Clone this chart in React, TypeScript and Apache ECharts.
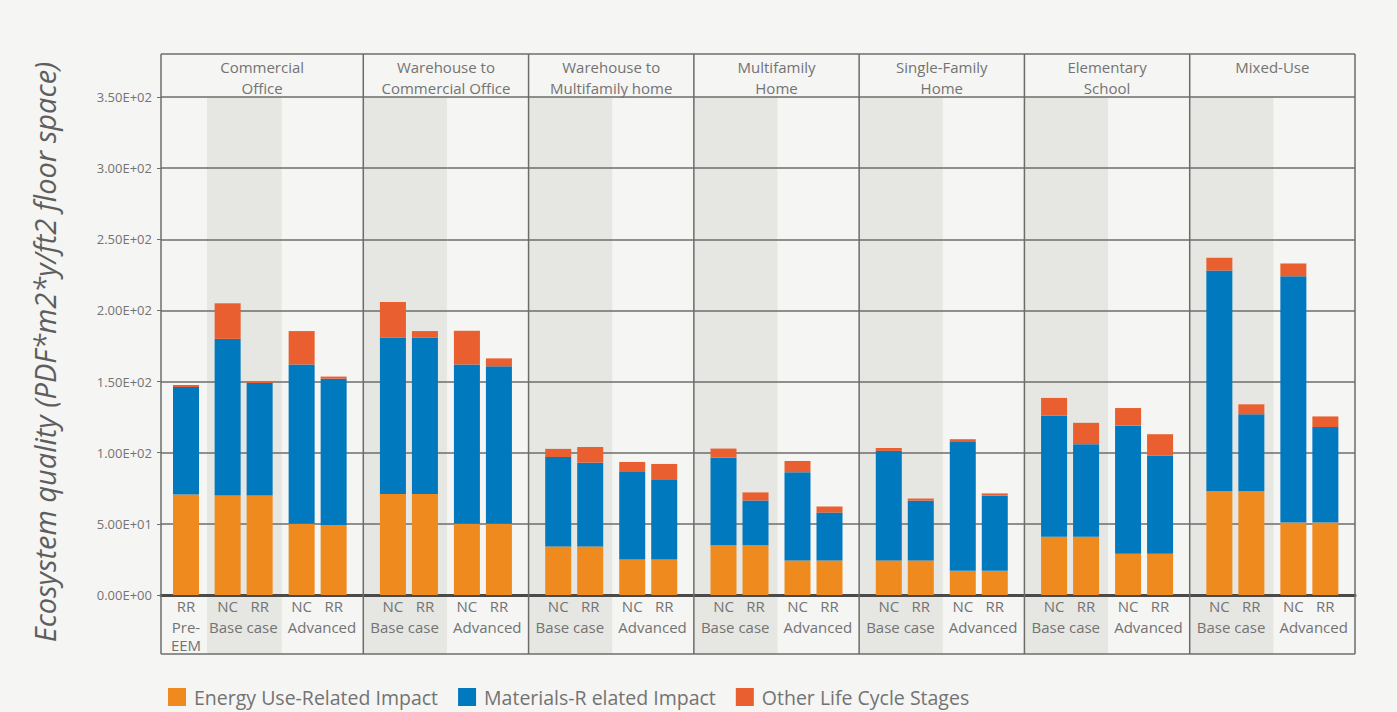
import React, { useEffect, useRef } from "react";
import * as echarts from "echarts";

// ---------------- data ----------------
const sectionNames = [
  "Commercial\nOffice",
  "Warehouse to\nCommercial Office",
  "Warehouse to\nMultifamily home",
  "Multifamily\nHome",
  "Single-Family\nHome",
  "Elementary\nSchool",
  "Mixed-Use",
];
const caseNames = ["Base case", "Advanced"];
const preEemCategory = ["Pre-\nEEM"];
const impactNames = [
  "Energy Use-Related Impact",
  "Materials-R elated Impact",
  "Other Life Cycle Stages",
];
const yAxisTitle = "Ecosystem quality (PDF*m2*y/ft2 floor space)";
const yMin = 0;
const yMax = 350;
const yStep = 50;

// Pre-EEM (only in Commercial Office), RR
const preRREnergy = [70.7];
const preRRMaterials = [75.5];
const preRROther = [1.4];

// Base case, new construction
const ncBaseEnergy = [70, 71, 34, 35, 24.3, 41, 73];
const ncBaseMaterials = [110, 110, 63, 61.5, 77, 85, 155];
const ncBaseOther = [25, 25, 5.7, 6.4, 2, 12.5, 9];
// Base case, renovation / reuse
const rrBaseEnergy = [70, 71, 34, 35, 24.3, 41, 73];
const rrBaseMaterials = [79, 110, 59, 31.4, 42, 65, 54];
const rrBaseOther = [1.3, 4.5, 11, 5.7, 1.5, 15, 7];
// Advanced, new construction
const ncAdvEnergy = [50, 50, 25, 24.3, 17, 29, 51];
const ncAdvMaterials = [112, 112, 61.4, 62, 90.5, 90, 173];
const ncAdvOther = [23.5, 23.7, 7.1, 7.9, 2, 12.4, 9];
// Advanced, renovation / reuse
const rrAdvEnergy = [49, 50, 25, 24.3, 17, 29, 51];
const rrAdvMaterials = [103, 110.7, 56.4, 33.6, 53, 69, 67];
const rrAdvOther = [1.5, 5.6, 10.7, 4.3, 1.4, 15, 7.5];

// ---------------- style / layout ----------------
const COLORS = ["#EF8A1E", "#0079BE", "#E95F30"];
const FONT = '"Open Sans", "Noto Sans", sans-serif';
const TEXT = "#737373";
const LINE = "#6c6c6c";
const BAND = "#e6e6e2";
const BG = "#f5f5f3";

const W = 1397;
const H = 712;
const PLOT_LEFT = 161;
const PLOT_RIGHT = 1355;
const PLOT_TOP = 97;
const PLOT_ZERO = 595;
const MAIN_LEFT = 198;
const HEADER_TOP = 54;
const HEADER_FIRST_CENTER = 67;
const HEADER_LINE_H = 20.5;
const HEADER_FONT = 15;
const FRAME_BOTTOM = 654;
const BAR_W = 26;
const GAP_RATIO = 6 / 26;
const SPACER_W = 10 / (1 + GAP_RATIO);
const CAT_W = (PLOT_RIGHT - MAIN_LEFT) / sectionNames.length;
const FIRST_CASE_SHIFT = 8;

const fmtExp = (v: number) => {
  const [m, e] = v.toExponential(2).split("e");
  const sign = e[0];
  const digits = e.slice(1).padStart(2, "0");
  return `${m}E${sign}${digits}`;
};

type StackDef = { id: string; label: string; values: number[][] };

const mainStacks: (StackDef | null)[] = [
  { id: "ncBase", label: "NC", values: [ncBaseEnergy, ncBaseMaterials, ncBaseOther] },
  { id: "rrBase", label: "RR", values: [rrBaseEnergy, rrBaseMaterials, rrBaseOther] },
  null,
  { id: "ncAdv", label: "NC", values: [ncAdvEnergy, ncAdvMaterials, ncAdvOther] },
  { id: "rrAdv", label: "RR", values: [rrAdvEnergy, rrAdvMaterials, rrAdvOther] },
];
const preStack: StackDef = {
  id: "preRR",
  label: "RR",
  values: [preRREnergy, preRRMaterials, preRROther],
};

const barGap = `${GAP_RATIO * 100}%`;

function stackSeries(def: StackDef, axisIndex: number) {
  return def.values.map((vals, k) => ({
    type: "bar",
    name: impactNames[k],
    stack: def.id,
    xAxisIndex: axisIndex,
    yAxisIndex: axisIndex,
    data: vals,
    barWidth: BAR_W,
    barGap,
    itemStyle: { color: COLORS[k] },
    emphasis: { disabled: true },
    z: 3,
    label:
      k === 0
        ? {
            show: true,
            position: "bottom",
            distance: 3,
            formatter: def.label,
            color: TEXT,
            fontSize: 15,
            fontFamily: FONT,
          }
        : { show: false },
  }));
}

function buildSeries() {
  const out: any[] = [];
  out.push(...stackSeries(preStack, 1));
  mainStacks.forEach((def) => {
    if (def) out.push(...stackSeries(def, 2));
    else
      out.push({
        type: "bar",
        name: "spacer",
        stack: "spacer",
        xAxisIndex: 2,
        yAxisIndex: 2,
        data: sectionNames.map(() => null),
        barWidth: SPACER_W,
        barGap,
        silent: true,
        itemStyle: { color: "rgba(0,0,0,0)" },
      });
  });
  return out;
}

const gridBase = { top: PLOT_TOP, bottom: H - PLOT_ZERO, containLabel: false };
const caseTokenStyle = { align: "center", fontSize: 15, color: TEXT, fontFamily: FONT };

function buildOption(): any {
  return {
    animation: false,
    backgroundColor: BG,
    textStyle: { fontFamily: FONT },
    legend: {
      data: impactNames,
      left: 168,
      top: 687,
      padding: 0,
      itemWidth: 18,
      itemHeight: 18,
      itemGap: 20,
      icon: "rect",
      selectedMode: false,
      textStyle: {
        fontSize: 19.5,
        lineHeight: 20,
        color: TEXT,
        fontFamily: FONT,
        padding: [0, 0, 0, 3],
      },
    },
    grid: [
      { ...gridBase, left: PLOT_LEFT, right: W - PLOT_RIGHT },
      { ...gridBase, left: PLOT_LEFT, width: 50 },
      { ...gridBase, left: MAIN_LEFT, right: W - PLOT_RIGHT },
    ],
    xAxis: [
      {
        gridIndex: 0,
        type: "category",
        data: [""],
        axisLine: { show: true, lineStyle: { color: "#4a4a4a", width: 3 } },
        axisTick: { show: false },
        axisLabel: { show: false },
        splitLine: { show: false },
      },
      {
        gridIndex: 1,
        type: "category",
        data: preEemCategory,
        axisLine: { show: false },
        axisTick: { show: false },
        axisLabel: {
          margin: 23,
          fontSize: 15,
          lineHeight: 18,
          color: TEXT,
          fontFamily: FONT,
        },
      },
      {
        gridIndex: 2,
        type: "category",
        data: sectionNames,
        axisLine: { show: false },
        axisTick: { show: false },
        splitLine: { show: false },
        axisLabel: {
          interval: 0,
          margin: 24,
          formatter: (_: string, idx: number) =>
            idx === 0
              ? `{p|}{a0|${caseNames[0]}}{b|${caseNames[1]}}`
              : `{a|${caseNames[0]}}{b|${caseNames[1]}}`,
          rich: {
            p: { ...caseTokenStyle, width: FIRST_CASE_SHIFT },
            a0: { ...caseTokenStyle, width: CAT_W / 2 - FIRST_CASE_SHIFT },
            a: { ...caseTokenStyle, width: CAT_W / 2 },
            b: { ...caseTokenStyle, width: CAT_W / 2 },
          },
        },
      },
    ],
    yAxis: [
      {
        gridIndex: 0,
        type: "value",
        min: yMin,
        max: yMax,
        interval: yStep,
        name: yAxisTitle,
        nameLocation: "middle",
        nameRotate: 90,
        nameGap: 102,
        nameTextStyle: {
          fontSize: 29,
          fontStyle: "italic",
          color: "#5e5e5e",
          fontFamily: FONT,
          padding: [0, 12, 0, 0],
        },
        axisLine: { show: false },
        axisTick: { show: true, length: 4, lineStyle: { color: LINE } },
        axisLabel: {
          formatter: (v: number) => fmtExp(v),
          fontSize: 13,
          color: TEXT,
          margin: 9,
          fontFamily: FONT,
        },
        splitLine: { show: true, lineStyle: { color: LINE, width: 1.5 } },
      },
      { gridIndex: 1, type: "value", min: yMin, max: yMax, interval: yStep, show: false },
      { gridIndex: 2, type: "value", min: yMin, max: yMax, interval: yStep, show: false },
    ],
    series: buildSeries(),
  };
}

function buildGraphics(chart: echarts.ECharts) {
  const cx = (i: number) => chart.convertToPixel({ xAxisIndex: 2 }, i) as number;
  const preCenter = chart.convertToPixel({ xAxisIndex: 1 }, 0) as number;
  const catW = cx(1) - cx(0);
  const yTop = chart.convertToPixel({ yAxisIndex: 0 }, yMax) as number;
  const n = sectionNames.length;
  const bounds: number[] = [PLOT_LEFT];
  for (let i = 1; i < n; i++) bounds.push(cx(i) - catW / 2);
  bounds.push(PLOT_RIGHT);

  const els: any[] = [];
  for (let i = 0; i < n; i++) {
    const catStart = cx(i) - catW / 2;
    const bandEnd = catStart + catW * 0.506;
    const bandStart = i === 0 ? preCenter + BAR_W / 2 + 8 : catStart;
    els.push({
      type: "rect",
      z: -5,
      silent: true,
      shape: { x: bandStart, y: yTop, width: bandEnd - bandStart, height: FRAME_BOTTOM - yTop },
      style: { fill: BAND },
    });
  }
  bounds.forEach((x) =>
    els.push({
      type: "line",
      z: 5,
      silent: true,
      shape: { x1: x, y1: HEADER_TOP, x2: x, y2: FRAME_BOTTOM },
      style: { stroke: LINE, lineWidth: 1.5 },
    })
  );
  [HEADER_TOP, FRAME_BOTTOM].forEach((y) =>
    els.push({
      type: "line",
      z: 5,
      silent: true,
      shape: { x1: PLOT_LEFT, y1: y, x2: PLOT_RIGHT, y2: y },
      style: { stroke: LINE, lineWidth: 1.5 },
    })
  );
  sectionNames.forEach((name, i) => {
    const center = (bounds[i] + bounds[i + 1]) / 2;
    name.split("\n").forEach((line, j) => {
      els.push({
        type: "text",
        z: 5,
        silent: true,
        x: center,
        y: HEADER_FIRST_CENTER + j * HEADER_LINE_H,
        style: {
          text: line,
          fill: TEXT,
          font: `${HEADER_FONT}px ${FONT}`,
          align: "center",
          verticalAlign: "middle",
          textAlign: "center",
          textVerticalAlign: "middle",
        },
      });
    });
  });
  return els;
}

export default function App() {
  const ref = useRef<HTMLDivElement>(null);
  useEffect(() => {
    document.body.style.margin = "0";
    if (!ref.current) return;
    const chart = echarts.init(ref.current, undefined, { renderer: "svg" });
    chart.setOption(buildOption());
    chart.setOption({ graphic: buildGraphics(chart) });
    return () => chart.dispose();
  }, []);
  return <div ref={ref} style={{ width: W, height: H }} />;
}
